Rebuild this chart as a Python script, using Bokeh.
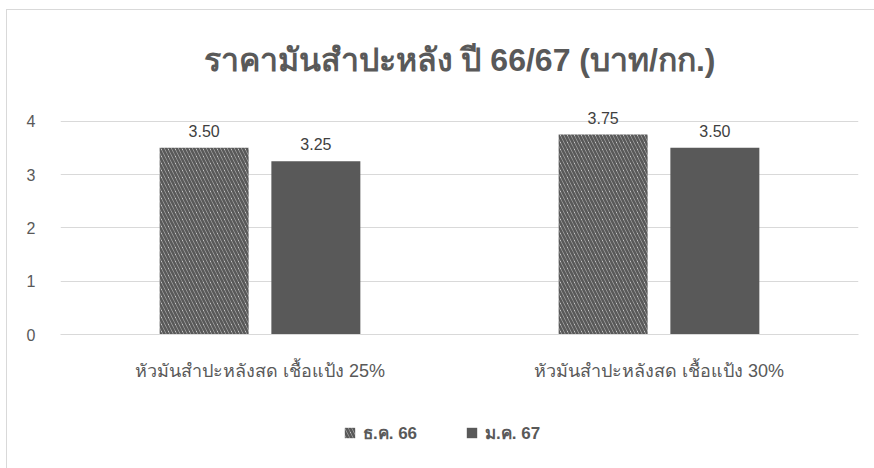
from bokeh.plotting import figure
from bokeh.layouts import column
from bokeh.models import ColumnDataSource, LabelSet, Legend, LegendItem, Title, FixedTicker
from bokeh.core.properties import value
from bokeh.transform import dodge
from bokeh.embed import file_html
from bokeh.resources import INLINE

categories = ["หัวมันสำปะหลังสด เชื้อแป้ง 25%", "หัวมันสำปะหลังสด เชื้อแป้ง 30%"]
dec66 = [3.50, 3.75]
jan67 = [3.25, 3.50]
series_names = ["ธ.ค. 66", "ม.ค. 67"]
y_ticks = [0, 1, 2, 3, 4]
title_text = "ราคามันสำปะหลัง ปี 66/67 (บาท/กก.)"

src = ColumnDataSource(dict(
    cat=categories, dec=dec66, jan=jan67,
    dec_lbl=[f"{v:.2f}" for v in dec66],
    jan_lbl=[f"{v:.2f}" for v in jan67],
))

FONT = "Liberation Sans"
GREY = "#595959"
HATCH = dict(fill_color="white", line_color=None, hatch_pattern="\\", hatch_color=GREY,
             hatch_scale=7, hatch_weight=2.8)
SOLID = dict(fill_color=GREY, line_color=None)

p = figure(x_range=categories, y_range=(0, 4.5), width=867, height=390,
           output_backend="svg", toolbar_location=None,
           min_border_left=53, min_border_right=16, min_border_top=84, min_border_bottom=66)
p.outline_line_color = None

r1 = p.vbar(x=dodge("cat", -0.14, range=p.x_range), top="dec", width=0.223, source=src, **HATCH)
r2 = p.vbar(x=dodge("cat", 0.14, range=p.x_range), top="jan", width=0.223, source=src, **SOLID)

for col, lbl, d in (("dec", "dec_lbl", -0.14), ("jan", "jan_lbl", 0.14)):
    p.add_layout(LabelSet(x=dodge("cat", d, range=p.x_range), y=col, text=lbl, source=src,
                          text_align="center", text_baseline="bottom", y_offset=11,
                          text_font=value(FONT), text_font_size="16px", text_color="#404040"))

p.title = Title(text=title_text, align="center", text_font=FONT, text_font_size="32px",
                text_font_style="bold", text_color=GREY, standoff=33)

p.yaxis.ticker = FixedTicker(ticks=y_ticks)
p.yaxis.axis_line_color = None
p.yaxis.major_tick_line_color = None
p.yaxis.minor_tick_line_color = None
p.yaxis.major_label_standoff = 19
p.yaxis.major_label_text_font = FONT
p.yaxis.major_label_text_font_size = "16px"
p.yaxis.major_label_text_color = GREY

p.xaxis.axis_line_color = "#d9d9d9"
p.xaxis.major_tick_line_color = None
p.xaxis.minor_tick_line_color = None
p.xaxis.major_label_standoff = 20
p.xaxis.major_label_text_font = FONT
p.xaxis.major_label_text_font_size = "18px"
p.xaxis.major_label_text_color = GREY

p.xgrid.grid_line_color = None
p.ygrid.grid_line_color = "#d9d9d9"
p.ygrid.ticker = FixedTicker(ticks=y_ticks)

# legend strip below the chart (bars drawn out of view, only their legend swatches show)
lf = figure(width=867, height=68, x_range=categories, y_range=(10, 11),
            output_backend="svg", toolbar_location=None,
            min_border=0, x_axis_type=None, y_axis_type=None)
lf.outline_line_color = None
lf.grid.visible = False
g1 = lf.vbar(x="cat", top="dec", width=0.2, source=src, **HATCH)
g2 = lf.vbar(x="cat", top="jan", width=0.2, source=src, **SOLID)
legend = Legend(items=[LegendItem(label=series_names[0], renderers=[g1], index=0),
                       LegendItem(label=series_names[1], renderers=[g2], index=0)],
                orientation="horizontal", location=(283, 22),
                label_text_font=FONT, label_text_font_size="17px", label_text_font_style="bold",
                label_text_color=GREY, glyph_width=13, glyph_height=13, spacing=48,
                label_standoff=7, padding=0, margin=0,
                border_line_color=None, background_fill_alpha=0)
lf.add_layout(legend)

layout = column(p, lf, spacing=0)
layout.styles = {"border-left": "1px solid #d9d9d9", "border-top": "1px solid #d9d9d9",
                 "margin": "9px 0 0 6px"}

open("out.html", "w").write(file_html(layout, INLINE))
